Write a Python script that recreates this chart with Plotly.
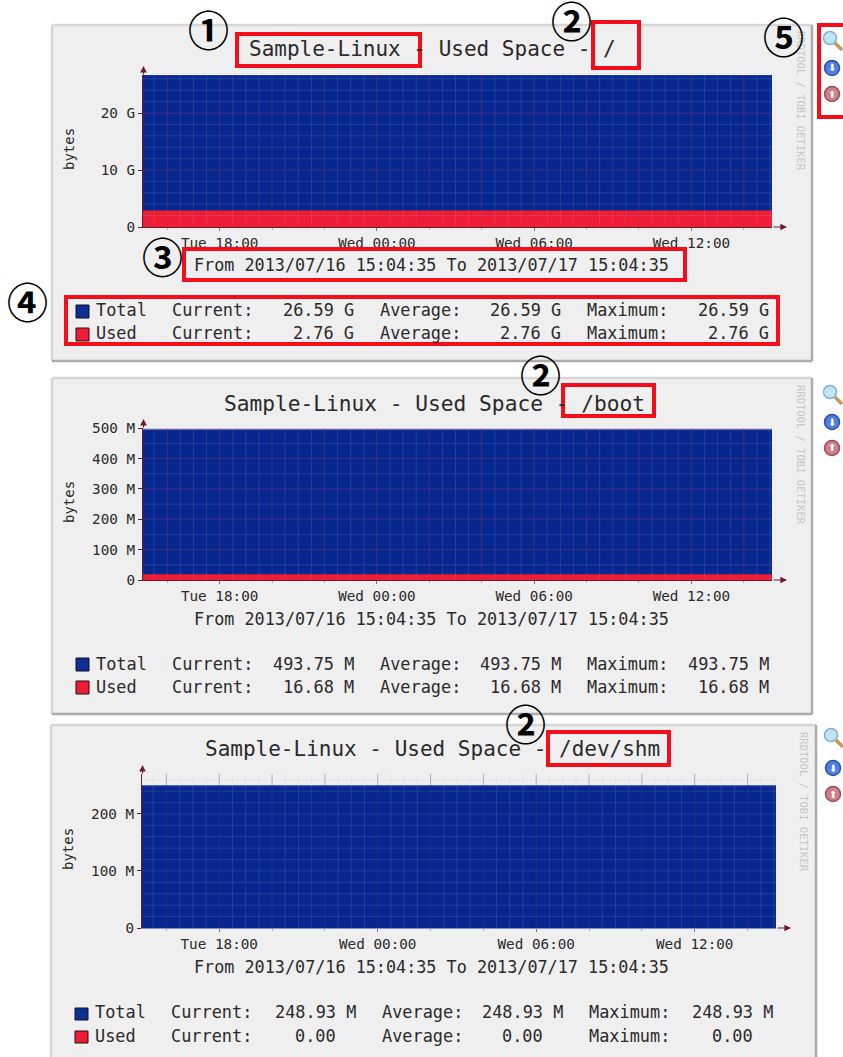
import pandas as pd
import plotly.graph_objects as go

W, H = 843, 1057
MONO = "DejaVu Sans Mono"
INK = "#2A2A2A"

# ---- data -----------------------------------------------------------------
start_time = "2013-07-16 15:04:35"
end_time = "2013-07-17 15:04:35"
sample_times = [start_time, end_time]

root_total = [26.59, 26.59]
root_used = [2.76, 2.76]
boot_total = [493.75, 493.75]
boot_used = [16.68, 16.68]
shm_total = [248.93, 248.93]
shm_used = [0.0, 0.0]

mount_points = ["/", "/boot", "/dev/shm"]
host_name = "Sample-Linux"
period_label = "From 2013/07/16 15:04:35 To 2013/07/17 15:04:35"
units = ["G", "M", "M"]

x_tick_times = ["2013-07-16 18:00", "2013-07-17 00:00", "2013-07-17 06:00", "2013-07-17 12:00"]
x_tick_labels = ["Tue 18:00", "Wed 00:00", "Wed 06:00", "Wed 12:00"]

root_ticks = [0, 10, 20]
root_tick_labels = ["0", "10 G", "20 G"]
boot_ticks = [0, 100, 200, 300, 400, 500]
boot_tick_labels = ["0", "100 M", "200 M", "300 M", "400 M", "500 M"]
shm_ticks = [0, 100, 200]
shm_tick_labels = ["0", "100 M", "200 M"]

# ---- layout helpers -------------------------------------------------------
BLUE, RED = "#06278F", "#EE1C35"
PANEL = "#EFEFEF"
px = lambda v: v / W
py = lambda v: 1 - v / H
shapes, notes = [], []


def rect(x0, y0, x1, y1, fill=None, line=None, lw=0, layer="above"):
    shapes.append(dict(type="rect", xref="paper", yref="paper", x0=px(x0), x1=px(x1), y0=py(y0), y1=py(y1),
                       fillcolor=fill or "rgba(0,0,0,0)", line=dict(color=line or "rgba(0,0,0,0)", width=lw), layer=layer))


def seg(x0, y0, x1, y1, color, lw=1, layer="above"):
    shapes.append(dict(type="line", xref="paper", yref="paper", x0=px(x0), x1=px(x1), y0=py(y0), y1=py(y1),
                       line=dict(color=color, width=lw), layer=layer))


def disc(cx, cy, r, fill, line):
    shapes.append(dict(type="circle", xref="paper", yref="paper", x0=px(cx - r), x1=px(cx + r), y0=py(cy - r), y1=py(cy + r),
                       fillcolor=fill, line=dict(color=line, width=1.5), layer="above"))


def text(x, y, s, size, anchor="left", color=INK, family=MONO, angle=0):
    notes.append(dict(xref="paper", yref="paper", x=px(x), y=py(y), text=s, showarrow=False, xanchor=anchor, yanchor="middle",
                      font=dict(family=family, size=size, color=color), textangle=angle, borderpad=0, borderwidth=0))


def arrow(x, y, dx, dy):
    notes.append(dict(xref="paper", yref="paper", x=px(x), y=py(y), text="", showarrow=True, axref="pixel", ayref="pixel",
                      ax=dx, ay=dy, arrowhead=2, arrowsize=1.1, arrowwidth=1.2, arrowcolor="#6E1A2C"))


MINOR = "rgba(170,180,225,0.17)"
panels = [
    dict(box=(52, 25, 812, 361), plot=(143, 772, 75, 227), yr=26.67, total=root_total, used=root_used, ticks=root_ticks,
         labels=root_tick_labels, minor=2, major=10, top=49, sub=265, rows=(310, 333), title_x=432, title_size=21,
         cols=(96, 172, 354, 380, 561, 587, 769), sw=(305, 318, 328, 341), icons=(41, 67, 94), ix=833, side=(801, 101), yl=69,
         vmajor="rgba(190,60,90,0.32)", hmajor="rgba(190,60,90,0.32)", base="#6E1A2C"),
    dict(box=(52, 378, 812, 714), plot=(143, 772, 428, 580), yr=500.5, total=boot_total, used=boot_used, ticks=boot_ticks,
         labels=boot_tick_labels, minor=50, major=100, top=403, sub=619, rows=(664, 687), title_x=434.5, title_size=21.2,
         cols=(96, 172, 354, 380, 561, 587, 769), sw=(658, 671, 681, 694), icons=(395, 421, 448), ix=833, side=(801, 455), yl=69,
         vmajor="rgba(190,60,90,0.32)", hmajor="rgba(190,60,90,0.32)", base="#6E1A2C"),
    dict(box=(51, 725, 816, 1062), plot=(142, 776, 774, 928), yr=270, total=shm_total, used=shm_used, ticks=shm_ticks,
         labels=shm_tick_labels, minor=20, major=100, top=749, sub=967, rows=(1012, 1036), title_x=432, title_size=21,
         cols=(95, 171, 356, 382, 563, 589, 773), sw=(1008, 1020, 1031, 1043), icons=(738, 767, 794), ix=834, side=(804, 802), yl=68,
         vmajor="rgba(100,50,120,0.38)", hmajor=MINOR, base="#7F95CF"),
]

half_hours = pd.date_range("2013-07-16 15:30", "2013-07-17 15:00", freq="30min")
fig = go.Figure()

for i, p in enumerate(panels):
    n = "" if i == 0 else str(i + 1)
    xa, ya = "x" + n, "y" + n
    x0, x1, ytop, ybase = p["plot"]
    # panel frame
    bx0, by0, bx1, by1 = p["box"]
    rect(bx0, by0, bx1, by1, fill=PANEL, layer="below")
    seg(bx0, by0, bx1, by0, "#D6D6D6", 2.5, "below")
    seg(bx0, by0, bx0, by1, "#D6D6D6", 2.5, "below")
    seg(bx1, by0, bx1, by1, "#ABABAB", 2.5, "below")
    seg(bx0, by1, bx1, by1, "#ABABAB", 2.5, "below")
    # areas
    fig.add_trace(go.Scatter(x=sample_times, y=p["total"], xaxis=xa, yaxis=ya, mode="lines", fill="tozeroy",
                             fillcolor=BLUE, line=dict(color="#17379C", width=1.5), name="Total", hoverinfo="skip"))
    fig.add_trace(go.Scatter(x=sample_times, y=p["used"], xaxis=xa, yaxis=ya, mode="lines", fill="tozeroy",
                             fillcolor=RED, line=dict(color=RED, width=1.5 if p["used"][-1] else 0), name="Used", hoverinfo="skip"))
    # rrdtool style grid, drawn over the areas
    for t in half_hours:
        major = t.minute == 0 and t.hour % 2 == 0
        shapes.append(dict(type="line", xref=xa, yref=ya, x0=t, x1=t, y0=0, y1=p["yr"], layer="above",
                           line=dict(color=p["vmajor"] if major else MINOR, width=1)))
    v = p["minor"]
    while v < p["yr"]:
        major = v % p["major"] == 0
        shapes.append(dict(type="line", xref=xa, yref=ya, x0=start_time, x1=end_time, y0=v, y1=v, layer="above",
                           line=dict(color=p["hmajor"] if major else MINOR, width=1)))
        v += p["minor"]
    even_hours = [t for t in half_hours if t.minute == 0 and t.hour % 2 == 0]
    fig.update_layout(**{
        ("xaxis" + n): dict(domain=[px(x0), px(x1)], anchor=ya, type="date", range=[start_time, end_time], tickvals=x_tick_times,
                            ticktext=x_tick_labels, ticks="outside", ticklen=3, tickcolor="#8A6A72", tickfont=dict(family=MONO, size=14.3, color=INK),
                            showgrid=False, zeroline=False, showline=True, linecolor=p["base"], linewidth=1, automargin=False,
                            minor=dict(tickvals=even_hours, ticks="outside", ticklen=2, tickcolor="#B8A8AC", showgrid=False)),
        ("yaxis" + n): dict(domain=[py(ybase), py(ytop)], anchor=xa, range=[0, p["yr"]], tickvals=p["ticks"], ticktext=p["labels"],
                            ticks="outside", ticklen=4, tickcolor="#6E1A2C", tickfont=dict(family=MONO, size=14.3, color=INK),
                            showgrid=False, zeroline=False, showline=True, linecolor="#6E1A2C", linewidth=1, automargin=False),
    })
    # axis arrows
    arrow(x0 + 0.5, ytop - 9, 0, 10)
    arrow(x1 + 15, ybase, -15, 0)
    # texts
    text(p["title_x"], p["top"], f"{host_name} - Used Space - {mount_points[i]}", p["title_size"], "center")
    text(431, p["sub"], period_label, 16.8, "center")
    text(p["yl"], (ytop + ybase) / 2 - 2, "bytes", 14, "center", angle=-90)
    text(p["side"][0], p["side"][1], "RRDTOOL / TOBI OETIKER", 10.5, "center", color="#C6C6C6", angle=90)
    # legend rows
    c = p["cols"]
    sw = p["sw"]
    rect(c[0] - 20, sw[0], c[0] - 7, sw[1], fill="#0E2F96", line="#101020", lw=1)
    rect(c[0] - 20, sw[2], c[0] - 7, sw[3], fill=RED, line="#201010", lw=1)
    u = units[i]
    for row, name, series in zip(p["rows"], ["Total", "Used"], [p["total"], p["used"]]):
        value = f"{series[-1]:.2f} {u}" if series[-1] else "0.00"
        pad = "  " if not series[-1] else ""
        text(c[0], row, name, 16.9)
        text(c[1], row, "Current:", 16.9)
        text(c[2], row, value + pad, 16.9, "right")
        text(c[3], row, "Average:", 16.9)
        text(c[4], row, value + pad, 16.9, "right")
        text(c[5], row, "Maximum:", 16.9)
        text(c[6], row, value + pad, 16.9, "right")
    # side icons
    ix = p["ix"]
    zy, dy, uy = p["icons"]
    seg(ix + 2, zy + 2, ix + 9, zy + 9, "#C49A5A", 3.5)
    disc(ix - 3, zy - 3, 6.5, "#BFE6F2", "#7FB4CC")
    disc(ix - 1, dy + 1, 7.5, "#4F7FE0", "#2F50A8")
    disc(ix - 1, uy, 7.5, "#CF8088", "#9C4A54")
    text(ix - 1, dy + 1, "⬇", 10, "center", color="#FFFFFF", family="DejaVu Sans")
    text(ix - 1, uy, "⬆", 10, "center", color="#FFFFFF", family="DejaVu Sans")


# red call-out boxes
def box(x0, y0, x1, y1, fill=None):
    rect(x0 + 2, y0 + 2, x1 - 2, y1 - 2, fill=fill, line="#F50D1A", lw=4)


box(235, 32, 422, 68, PANEL)
box(591, 20, 641, 70, PANEL)
box(182, 247, 687, 282, PANEL)
box(64, 295, 780, 346)
box(817, 23, 860, 119)
box(561, 383, 656, 418, PANEL)
box(546, 730, 671, 767, PANEL)

# circled call-out numbers
CJK = "Noto Sans CJK JP"
for cx, cy, glyph in [(208, 31, "①"), (571, 22, "②"), (783, 38, "⑤"), (162, 258, "③"), (28, 303, "④"),
                      (540, 376, "②"), (525, 725, "②")]:
    text(cx, cy - 3, f"<b>{glyph}</b>", 41, "center", color="#000000", family=CJK)

fig.update_layout(width=W, height=H, autosize=False, margin=dict(l=0, r=0, t=0, b=0), paper_bgcolor="#FFFFFF",
                  plot_bgcolor="#FFFFFF", showlegend=False, shapes=shapes, annotations=notes, hovermode=False)
fig.write_html("out.html", config=dict(displayModeBar=False),
               post_script="document.body.style.margin='0';document.body.style.overflow='hidden';")
